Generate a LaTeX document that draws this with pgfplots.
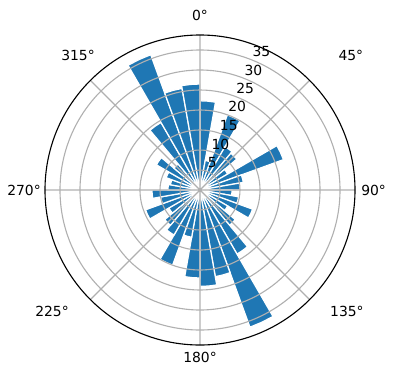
\documentclass[border=0pt]{standalone}
\usepackage{fontspec}
\setmainfont{DejaVu Sans}
\usepackage{pgfplots}
\pgfplotsset{compat=1.18}
\usepgfplotslibrary{polar}
\definecolor{barblue}{HTML}{1F77B4}
\definecolor{gridgray}{HTML}{B0B0B0}
% #1 = start angle, #2 = middle angle, #3 = end angle (pgf angles), #4 = radius
\newcommand{\wbar}[4]{\addplot[fill=barblue, draw=white, line width=0.9pt] coordinates {(#1,0) (#1,#4) (#2,#4) (#3,#4) (#3,0)} -- cycle;}
\begin{document}
\begin{tikzpicture}
\useasboundingbox (-144pt,-136.8pt) rectangle (141.12pt,136.8pt);
\begin{polaraxis}[
  at={(0,0)}, anchor=center,
  scale only axis, width=223.2pt, height=223.2pt,
  xmin=0, xmax=360, ymin=0, ymax=38.75,
  xtick={0,45,...,315},
  xticklabels={},
  ytick={5,10,...,35}, yticklabels={},
  major tick length=0pt,
  grid=major,
  major grid style={color=gridgray, line width=0.8pt},
  axis line style={black, line width=0.8pt},
  y axis line style={draw=none},
  axis on top,
  clip=false,
]
\wbar{80}{85}{90}{22.3}
\wbar{70}{75}{80}{7.5}
\wbar{60}{65}{70}{20}
\wbar{50}{55}{60}{12.5}
\wbar{40}{45}{50}{12}
\wbar{30}{35}{40}{8}
\wbar{20}{25}{30}{22.2}
\wbar{10}{15}{20}{11}
\wbar{0}{5}{10}{10}
\wbar{350}{355}{360}{8}
\wbar{340}{345}{350}{9.8}
\wbar{330}{335}{340}{14}
\wbar{320}{325}{330}{8}
\wbar{310}{315}{320}{11.5}
\wbar{300}{305}{310}{18.5}
\wbar{290}{295}{300}{36.5}
\wbar{280}{285}{290}{22}
\wbar{270}{275}{280}{24.1}
\wbar{260}{265}{270}{22}
\wbar{250}{255}{260}{12}
\wbar{240}{245}{250}{20}
\wbar{230}{235}{240}{13}
\wbar{220}{225}{230}{11.5}
\wbar{210}{215}{220}{9}
\wbar{200}{205}{210}{14.5}
\wbar{190}{195}{200}{10}
\wbar{180}{185}{190}{12}
\wbar{170}{175}{180}{8}
\wbar{160}{165}{170}{7.5}
\wbar{150}{155}{160}{9}
\wbar{140}{145}{150}{12.6}
\wbar{130}{135}{140}{8.5}
\wbar{120}{125}{130}{19.5}
\wbar{110}{115}{120}{36}
\wbar{100}{105}{110}{25.8}
\wbar{90}{95}{100}{26.5}
% radial tick labels
\node[font=\fontsize{10}{12}\selectfont] at (axis cs:66,7.5) {5};
\node[font=\fontsize{10}{12}\selectfont] at (axis cs:66,12.6) {10};
\node[font=\fontsize{10}{12}\selectfont] at (axis cs:66,17.7) {15};
\node[font=\fontsize{10}{12}\selectfont] at (axis cs:66,22.8) {20};
\node[font=\fontsize{10}{12}\selectfont] at (axis cs:66,27.8) {25};
\node[font=\fontsize{10}{12}\selectfont] at (axis cs:66,32.8) {30};
\node[font=\fontsize{10}{12}\selectfont] at (axis cs:66,37.8) {35};
% angular tick labels
\node[font=\fontsize{10}{12}\selectfont] at (axis cs:90,43.75) {0°};
\node[font=\fontsize{10}{12}\selectfont] at (axis cs:41.8,50.6) {45°};
\node[font=\fontsize{10}{12}\selectfont] at (axis cs:0,43.4) {90°};
\node[font=\fontsize{10}{12}\selectfont] at (axis cs:320.5,47.6) {135°};
\node[font=\fontsize{10}{12}\selectfont] at (axis cs:270,41.75) {180°};
\node[font=\fontsize{10}{12}\selectfont] at (axis cs:219.3,47.8) {225°};
\node[font=\fontsize{10}{12}\selectfont] at (axis cs:180,44) {270°};
\node[font=\fontsize{10}{12}\selectfont] at (axis cs:132.1,45.5) {315°};
\end{polaraxis}
\end{tikzpicture}
\end{document}
